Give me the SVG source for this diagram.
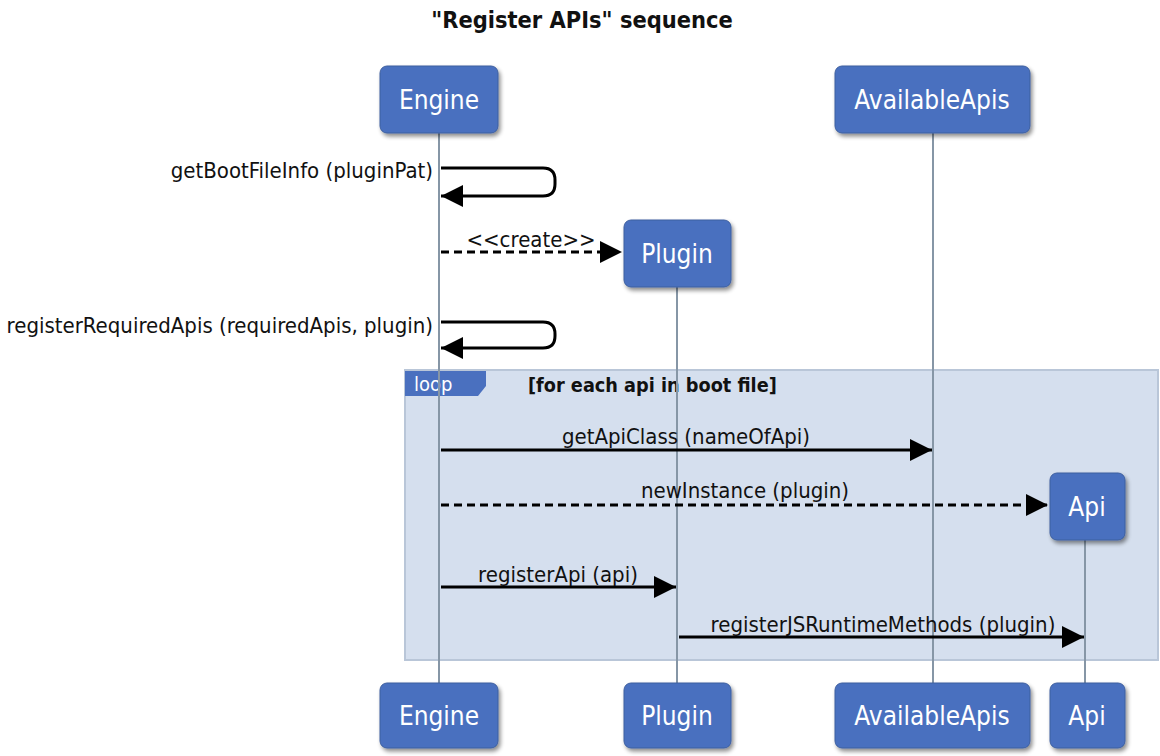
<svg xmlns="http://www.w3.org/2000/svg" width="1160" height="756" viewBox="0 0 1160 756">
<defs>
<filter id="sh" x="-10%" y="-10%" width="130%" height="130%">
<feGaussianBlur in="SourceAlpha" stdDeviation="2"/>
<feOffset dx="2" dy="3"/>
<feComponentTransfer><feFuncA type="linear" slope="0.45"/></feComponentTransfer>
<feMerge><feMergeNode/><feMergeNode in="SourceGraphic"/></feMerge>
</filter>
<marker id="ah" viewBox="0 0 22 22" refX="22" refY="11" markerWidth="22" markerHeight="22" markerUnits="userSpaceOnUse" orient="auto">
<path d="M0,0 L22,11 L0,22 Z" fill="#000"/>
</marker>
</defs>
<style>
.box{fill:#4a70bf;stroke:#3d5f9f;stroke-width:1;filter:url(#sh)}
.bt{font-family:"DejaVu Sans Condensed","DejaVu Sans",sans-serif;font-size:26px;fill:#fff;text-anchor:middle}
.life{stroke:#8696a6;stroke-width:2}
.msg{stroke:#000;stroke-width:3;fill:none}
.dash{stroke-dasharray:8,5}
.lbl{font-family:"DejaVu Sans Condensed","DejaVu Sans",sans-serif;font-size:22px;fill:#111}
.title{font-family:"DejaVu Sans Condensed","DejaVu Sans",sans-serif;font-size:23.4px;font-weight:bold;fill:#111;text-anchor:middle}
</style>
<rect width="1160" height="756" fill="#fff"/>
<text class="title" x="582" y="28">"Register APIs" sequence</text>

<g id="loop">
<rect x="405" y="370" width="753" height="290" fill="#d5dfee" stroke="#b9c6d8" stroke-width="2"/>
<path d="M405,371 H486 V386 L478,396 H405 Z" fill="#4a70bf"/>
<text x="414" y="391" font-family="DejaVu Sans Condensed,DejaVu Sans,sans-serif" font-size="20" fill="#fff">loop</text>
<text x="528" y="392" font-family="DejaVu Sans Condensed,DejaVu Sans,sans-serif" font-size="19.7" font-weight="bold" fill="#111">[for each api in boot file]</text>
</g>

<g id="lifelines">
<line class="life" x1="439" y1="133" x2="439" y2="684"/>
<line class="life" x1="933" y1="133" x2="933" y2="684"/>
<line class="life" x1="677" y1="287" x2="677" y2="684"/>
<line class="life" x1="1085" y1="540" x2="1085" y2="684"/>
</g>

<g id="node-engine-top"><rect class="box" x="380" y="66" width="118" height="67" rx="7"/><text class="bt" x="439" y="109">Engine</text></g>
<g id="node-availableapis-top"><rect class="box" x="835" y="66" width="195" height="67" rx="7"/><text class="bt" x="932" y="109">AvailableApis</text></g>
<g id="node-plugin-top"><rect class="box" x="624" y="220" width="107" height="67" rx="7"/><text class="bt" x="677" y="263">Plugin</text></g>
<g id="node-api-top"><rect class="box" x="1050" y="473" width="75" height="67" rx="7"/><text class="bt" x="1087" y="516">Api</text></g>

<g id="node-engine-bottom"><rect class="box" x="380" y="683" width="118" height="65" rx="7"/><text class="bt" x="439" y="725">Engine</text></g>
<g id="node-plugin-bottom"><rect class="box" x="624" y="683" width="107" height="65" rx="7"/><text class="bt" x="677" y="725">Plugin</text></g>
<g id="node-availableapis-bottom"><rect class="box" x="835" y="683" width="195" height="65" rx="7"/><text class="bt" x="932" y="725">AvailableApis</text></g>
<g id="node-api-bottom"><rect class="box" x="1050" y="683" width="75" height="65" rx="7"/><text class="bt" x="1087" y="725">Api</text></g>

<g id="connectors">
<path class="msg" d="M441,168 H543 Q555,168 555,180 V184 Q555,196 543,196 H441" marker-end="url(#ah)"/>
<text class="lbl" x="433" y="178" text-anchor="end">getBootFileInfo (pluginPat)</text>

<path class="msg dash" d="M441,252 H622" marker-end="url(#ah)"/>
<text class="lbl" x="531" y="247" text-anchor="middle">&lt;&lt;create&gt;&gt;</text>

<path class="msg" d="M441,322 H543 Q555,322 555,334 V336 Q555,348 543,348 H441" marker-end="url(#ah)"/>
<text class="lbl" x="433" y="333" text-anchor="end">registerRequiredApis (requiredApis, plugin)</text>

<path class="msg" d="M441,450 H932" marker-end="url(#ah)"/>
<text class="lbl" x="686" y="444" text-anchor="middle">getApiClass (nameOfApi)</text>

<path class="msg dash" d="M441,505 H1048" marker-end="url(#ah)"/>
<text class="lbl" x="745" y="498" text-anchor="middle">newInstance (plugin)</text>

<path class="msg" d="M441,587 H676" marker-end="url(#ah)"/>
<text class="lbl" x="558" y="582" text-anchor="middle">registerApi (api)</text>

<path class="msg" d="M679,637 H1084" marker-end="url(#ah)"/>
<text class="lbl" x="883" y="632" text-anchor="middle">registerJSRuntimeMethods (plugin)</text>
</g>
</svg>
